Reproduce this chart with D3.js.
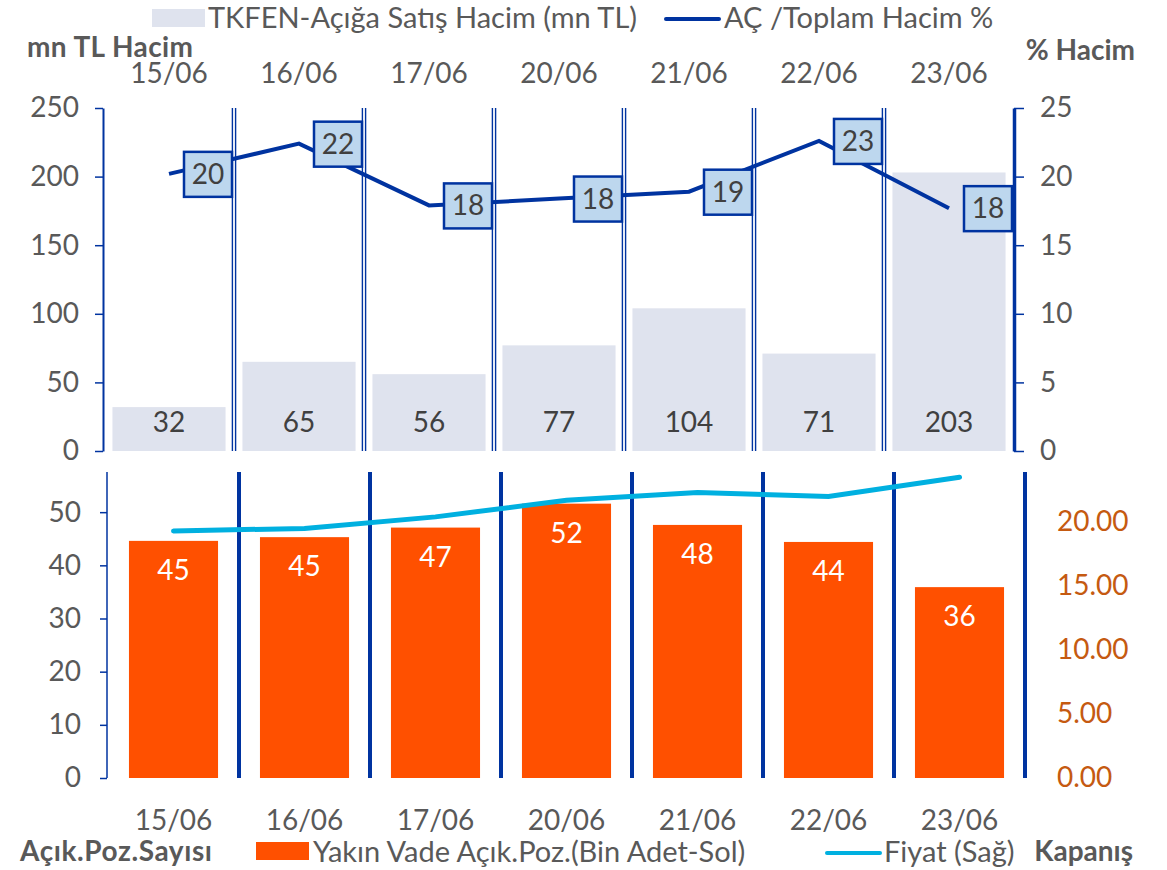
<!DOCTYPE html>
<html>
<head>
<meta charset="utf-8">
<script src="https://cdn.jsdelivr.net/npm/d3@7"></script>
<style>
  body { margin: 0; background: #fff; }
  text { font-family: Lato, "Noto Sans", sans-serif; }
</style>
</head>
<body>
<svg width="1167" height="870"></svg>
<script>
// data
var dates = ["15/06", "16/06", "17/06", "20/06", "21/06", "22/06", "23/06"];
var shortVolume = [32, 65, 56, 77, 104, 71, 203];          // mn TL, left top axis
var shortRatio = [20.2, 22.4, 17.9, 18.4, 18.9, 22.6, 17.7]; // %, right top axis
var openInterest = [44.6, 45.3, 47.1, 51.6, 47.6, 44.4, 35.9]; // bin adet, left bottom
var closePrice = [19.3, 19.5, 20.4, 21.7, 22.3, 22.0, 23.5];  // right bottom
var topLeftTicks = [0, 50, 100, 150, 200, 250];
var topRightTicks = [0, 5, 10, 15, 20, 25];
var botLeftTicks = [0, 10, 20, 30, 40, 50];
var botRightTicks = [0, 5, 10, 15, 20];

var svg = d3.select("svg");
var navy = "#0033a0", grey = "#595959";
var fs = "28px", legFs = "29px", boldFs = "28px";

// ---------- top chart ----------
var xTop = d3.scaleBand().domain(dates).range([104, 1014]).paddingInner(0.13).paddingOuter(0.065);
var yVol = d3.scaleLinear().domain([0, 250]).range([451, 108]);
var yPct = d3.scaleLinear().domain([0, 25]).range([451, 108]);

svg.append("g").selectAll("rect")
    .data(shortVolume).enter().append("rect")
    .attr("x", (d, i) => xTop(dates[i]))
    .attr("y", d => yVol(d))
    .attr("width", xTop.bandwidth())
    .attr("height", d => yVol(0) - yVol(d))
    .attr("fill", "#dfe3ee");

svg.append("g").selectAll("text")
    .data(shortVolume).enter().append("text")
    .attr("x", (d, i) => xTop(dates[i]) + xTop.bandwidth() / 2)
    .attr("y", 432)
    .attr("text-anchor", "middle")
    .attr("font-size", fs)
    .attr("fill", "#404040")
    .text(d => d);

// double separators between days
var stepTop = xTop.step();
dates.slice(1).forEach(function (d) {
    var bx = xTop(d) - xTop.paddingInner() * stepTop / 2;
    [-1.6, 1.6].forEach(function (o) {
        svg.append("line")
            .attr("x1", bx + o).attr("x2", bx + o)
            .attr("y1", 108).attr("y2", 451)
            .attr("stroke", navy).attr("stroke-width", 1.4);
    });
});

// left axis (top)
var gl = svg.append("g").attr("transform", "translate(103,0)")
    .call(d3.axisLeft(yVol).tickValues(topLeftTicks).tickSize(8).tickSizeOuter(0));
gl.select(".domain").attr("stroke", navy).attr("stroke-width", 2);
gl.selectAll(".tick line").attr("stroke", navy).attr("stroke-width", 1.5);
gl.selectAll(".tick text").attr("x", -24).attr("font-size", fs).attr("fill", grey)
    .style("font-family", "Lato");

// right axis (top)
var gr = svg.append("g").attr("transform", "translate(1014,0)")
    .call(d3.axisRight(yPct).tickValues(topRightTicks).tickSize(10).tickSizeOuter(0));
gr.select(".domain").attr("stroke", navy).attr("stroke-width", 3.5);
gr.selectAll(".tick line").attr("stroke", navy).attr("stroke-width", 1.5);
gr.selectAll(".tick text").attr("x", 26).attr("font-size", fs).attr("fill", grey)
    .style("font-family", "Lato");

// ratio line
var lineTop = d3.line()
    .x((d, i) => xTop(dates[i]) + xTop.bandwidth() / 2)
    .y(d => yPct(d));
svg.append("path").datum(shortRatio)
    .attr("d", lineTop)
    .attr("fill", "none").attr("stroke", navy).attr("stroke-width", 4);

var boxes = svg.append("g").selectAll("g")
    .data(shortRatio).enter().append("g")
    .attr("transform", (d, i) => "translate(" + (xTop(dates[i]) + xTop.bandwidth() / 2 + 39) + "," + yPct(d) + ")");
boxes.append("rect")
    .attr("x", -24).attr("y", -22).attr("width", 48).attr("height", 45)
    .attr("fill", "#bdd7ee").attr("stroke", navy).attr("stroke-width", 2.5);
boxes.append("text")
    .attr("text-anchor", "middle").attr("y", 10)
    .attr("font-size", fs).attr("fill", "#404040")
    .text(d => Math.round(d));

// top category labels
svg.append("g").selectAll("text")
    .data(dates).enter().append("text")
    .attr("x", d => xTop(d) + xTop.bandwidth() / 2)
    .attr("y", 83)
    .attr("text-anchor", "middle")
    .attr("font-size", fs).attr("fill", grey)
    .text(d => d);

svg.append("text").attr("x", 27).attr("y", 57)
    .attr("font-size", boldFs).attr("font-weight", "bold").attr("fill", grey)
    .attr("textLength", 166).attr("lengthAdjust", "spacing")
    .text("mn TL Hacim");
svg.append("text").attr("x", 1135).attr("y", 60).attr("text-anchor", "end")
    .attr("font-size", boldFs).attr("font-weight", "bold").attr("fill", grey)
    .text("% Hacim");

// top legend
svg.append("rect").attr("x", 152).attr("y", 9).attr("width", 53).attr("height", 18).attr("fill", "#dfe3ee");
svg.append("text").attr("x", 208).attr("y", 28).attr("font-size", legFs).attr("fill", grey)
    .text("TKFEN-Açığa Satış Hacim (mn TL)");
svg.append("line").attr("x1", 666).attr("x2", 719).attr("y1", 19).attr("y2", 19)
    .attr("stroke", navy).attr("stroke-width", 4).attr("stroke-linecap", "round");
svg.append("text").attr("x", 724).attr("y", 28).attr("font-size", legFs).attr("fill", grey)
    .text("AÇ /Toplam Hacim %");

// ---------- bottom chart ----------
var xBot = d3.scaleBand().domain(dates).range([108, 1025]).paddingInner(0.32).paddingOuter(0.16);
var yOI = d3.scaleLinear().domain([0, 60]).range([778, 459]);
var yPx = d3.scaleLinear().domain([0, 25]).range([778, 458]);

svg.append("g").selectAll("rect")
    .data(openInterest).enter().append("rect")
    .attr("x", (d, i) => xBot(dates[i]))
    .attr("y", d => yOI(d))
    .attr("width", xBot.bandwidth())
    .attr("height", d => yOI(0) - yOI(d))
    .attr("fill", "#ff5000");

svg.append("g").selectAll("text")
    .data(openInterest).enter().append("text")
    .attr("x", (d, i) => xBot(dates[i]) + xBot.bandwidth() / 2)
    .attr("y", d => yOI(d) + 39)
    .attr("text-anchor", "middle")
    .attr("font-size", fs).attr("fill", "#fff")
    .text(d => Math.round(d));

// thick separators
var stepBot = xBot.step();
dates.slice(1).forEach(function (d) {
    var bx = xBot(d) - xBot.paddingInner() * stepBot / 2;
    svg.append("line")
        .attr("x1", bx).attr("x2", bx)
        .attr("y1", 472).attr("y2", 778)
        .attr("stroke", navy).attr("stroke-width", 4);
});

var bl = svg.append("g").attr("transform", "translate(107,0)")
    .call(d3.axisLeft(yOI).tickValues(botLeftTicks).tickSize(7).tickSizeOuter(0));
bl.select(".domain").attr("d", "M0,472V778").attr("stroke", navy).attr("stroke-width", 1.5);
bl.selectAll(".tick line").attr("stroke", navy).attr("stroke-width", 1.5);
bl.selectAll(".tick text").attr("x", -26).attr("font-size", fs).attr("fill", grey)
    .style("font-family", "Lato");

var br = svg.append("g").attr("transform", "translate(1025,0)")
    .call(d3.axisRight(yPx).tickValues(botRightTicks).tickSize(0).tickFormat(d3.format(".2f")));
br.select(".domain").attr("d", "M0,472V778").attr("stroke", navy).attr("stroke-width", 4);
br.selectAll(".tick text").attr("x", 32).attr("font-size", fs).attr("fill", "#c55a11")
    .style("font-family", "Lato");

// price line
var lineBot = d3.line()
    .x((d, i) => xBot(dates[i]) + xBot.bandwidth() / 2)
    .y(d => yPx(d));
svg.append("path").datum(closePrice)
    .attr("d", lineBot)
    .attr("fill", "none").attr("stroke", "#00b0e0").attr("stroke-width", 5)
    .attr("stroke-linecap", "round");

// bottom category labels
svg.append("g").selectAll("text")
    .data(dates).enter().append("text")
    .attr("x", d => xBot(d) + xBot.bandwidth() / 2)
    .attr("y", 830)
    .attr("text-anchor", "middle")
    .attr("font-size", fs).attr("fill", grey)
    .text(d => d);

// bottom legend
svg.append("text").attr("x", 20).attr("y", 861)
    .attr("font-size", boldFs).attr("font-weight", "bold").attr("fill", grey)
    .attr("textLength", 192).attr("lengthAdjust", "spacing")
    .text("Açık.Poz.Sayısı");
svg.append("rect").attr("x", 256).attr("y", 842).attr("width", 53).attr("height", 18).attr("fill", "#ff5000");
svg.append("text").attr("x", 313).attr("y", 862).attr("font-size", legFs).attr("fill", grey)
    .text("Yakın Vade Açık.Poz.(Bin Adet-Sol)");
svg.append("line").attr("x1", 827).attr("x2", 880).attr("y1", 853).attr("y2", 853)
    .attr("stroke", "#00b0e0").attr("stroke-width", 4).attr("stroke-linecap", "round");
svg.append("text").attr("x", 884).attr("y", 862).attr("font-size", legFs).attr("fill", grey)
    .text("Fiyat (Sağ)");
svg.append("text").attr("x", 1133).attr("y", 861).attr("text-anchor", "end")
    .attr("font-size", boldFs).attr("font-weight", "bold").attr("fill", grey)
    .text("Kapanış");
</script>
</body>
</html>
